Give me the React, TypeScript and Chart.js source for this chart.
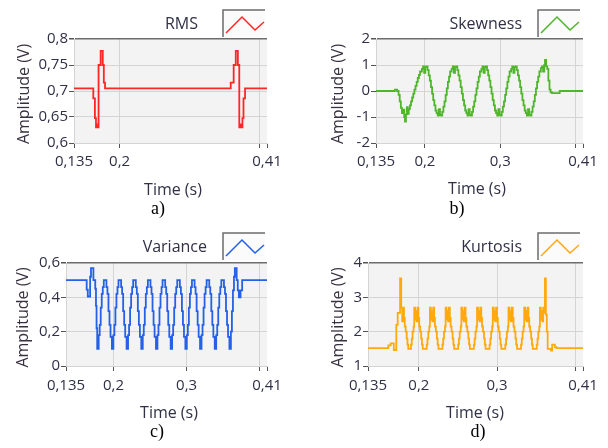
import React, { useEffect, useRef } from 'react';
import { Chart, registerables } from 'chart.js';

Chart.register(...registerables);

// ---------------- DATA ----------------
const xTicksA = [0.135, 0.2, 0.4, 0.41];
const xLabelsA = ['0,135', '0,2', '', '0,41'];
const xTicksB = [0.135, 0.2, 0.3, 0.4, 0.41];
const xLabelsB = ['0,135', '0,2', '0,3', '', '0,41'];

const rmsYTicks = [0.6, 0.65, 0.7, 0.75, 0.8];
const rmsYLabels = ['0,6', '0,65', '0,7', '0,75', '0,8'];
const skewYTicks = [-2, -1, 0, 1, 2];
const skewYLabels = ['-2', '-1', '0', '1', '2'];
const varYTicks = [0, 0.2, 0.4, 0.6];
const varYLabels = ['0', '0,2', '0,4', '0,6'];
const kurtYTicks = [1, 2, 3, 4];
const kurtYLabels = ['1', '2', '3', '4'];

const rmsTime = [0.1350, 0.1625, 0.1648, 0.1663, 0.1675, 0.1688, 0.1700, 0.1730, 0.1760, 0.1775, 0.1792,
  0.3583, 0.3625, 0.3655, 0.3685, 0.3705, 0.3720, 0.3735, 0.3750, 0.3765, 0.3787, 0.4100];
const rmsValues = [0.705, 0.686, 0.648, 0.630, 0.636, 0.630, 0.750, 0.777, 0.750, 0.716, 0.705,
  0.716, 0.750, 0.777, 0.750, 0.630, 0.636, 0.630, 0.648, 0.686, 0.705, 0.705];

const skewTime = [0.1350, 0.1600, 0.1630, 0.1650, 0.1665, 0.1680, 0.1695, 0.1710, 0.1725, 0.1735, 0.1748, 0.1760, 0.1772, 0.1785,
  0.1800, 0.1815, 0.1830, 0.1845, 0.1860, 0.1875, 0.1890, 0.1905, 0.1920, 0.1935,
  0.1960, 0.1975, 0.1990, 0.2005, 0.2020, 0.2035,
  0.2050, 0.2065, 0.2080, 0.2095, 0.2110, 0.2125, 0.2140,
  0.2155, 0.2170, 0.2185, 0.2200, 0.2215, 0.2230,
  0.2245, 0.2260, 0.2275, 0.2290, 0.2305, 0.2320, 0.2335,
  0.2355, 0.2370, 0.2385, 0.2400, 0.2415, 0.2430,
  0.2445, 0.2460, 0.2475, 0.2490, 0.2505, 0.2520, 0.2535,
  0.2550, 0.2565, 0.2580, 0.2595, 0.2610, 0.2625,
  0.2640, 0.2655, 0.2670, 0.2685, 0.2700, 0.2715, 0.2730,
  0.2750, 0.2765, 0.2780, 0.2795, 0.2810, 0.2825,
  0.2840, 0.2855, 0.2870, 0.2885, 0.2900, 0.2915, 0.2930,
  0.2945, 0.2960, 0.2975, 0.2990, 0.3005, 0.3020,
  0.3035, 0.3050, 0.3065, 0.3080, 0.3095, 0.3110, 0.3125,
  0.3145, 0.3160, 0.3175, 0.3190, 0.3205, 0.3220,
  0.3235, 0.3250, 0.3265, 0.3280, 0.3295, 0.3310, 0.3325,
  0.3340, 0.3355, 0.3370, 0.3385, 0.3400, 0.3415,
  0.3430, 0.3445, 0.3460, 0.3475, 0.3490, 0.3505, 0.3520,
  0.3540, 0.3555, 0.3570, 0.3585, 0.3595, 0.3610, 0.3625, 0.3640, 0.3655, 0.3670, 0.3690, 0.3790, 0.4100];
const skewValues = [0, 0.05, 0, -0.15, -0.40, -0.65, -0.85, -0.72, -1.00, -1.18, -0.90, -0.62, -0.88, -0.70,
  -0.55, -0.40, -0.25, -0.10, 0.05, 0.20, 0.35, 0.50, 0.62, 0.75,
  0.85, 0.95, 0.70, 0.92, 0.95, 0.80,
  0.60, 0.40, 0.15, -0.10, -0.35, -0.55, -0.75,
  -0.85, -0.95, -0.70, -0.92, -0.95, -0.80,
  -0.60, -0.40, -0.15, 0.10, 0.35, 0.55, 0.75,
  0.85, 0.95, 0.70, 0.92, 0.95, 0.80,
  0.60, 0.40, 0.15, -0.10, -0.35, -0.55, -0.75,
  -0.85, -0.95, -0.70, -0.92, -0.95, -0.80,
  -0.60, -0.40, -0.15, 0.10, 0.35, 0.55, 0.75,
  0.85, 0.95, 0.70, 0.92, 0.95, 0.80,
  0.60, 0.40, 0.15, -0.10, -0.35, -0.55, -0.75,
  -0.85, -0.95, -0.70, -0.92, -0.95, -0.80,
  -0.60, -0.40, -0.15, 0.10, 0.35, 0.55, 0.75,
  0.85, 0.95, 0.70, 0.92, 0.95, 0.80,
  0.60, 0.40, 0.15, -0.10, -0.35, -0.55, -0.75,
  -0.85, -0.95, -0.70, -0.92, -0.95, -0.80,
  -0.60, -0.40, -0.15, 0.10, 0.35, 0.55, 0.75,
  0.88, 0.95, 0.75, 1.00, 1.20, 0.95, 0.85, 0.40, 0.05, -0.05, -0.08, 0, 0];

const varTime = [0.1350, 0.1633, 0.1648, 0.1680, 0.1692, 0.1725, 0.1750, 0.1760, 0.1768,
  0.1777, 0.1797, 0.1811, 0.1825, 0.1839, 0.1853, 0.1867, 0.1903, 0.1917, 0.1931, 0.1945, 0.1959,
  0.1978, 0.1998, 0.2012, 0.2026, 0.2040, 0.2054, 0.2068, 0.2104, 0.2118, 0.2132, 0.2146, 0.2160,
  0.2179, 0.2199, 0.2213, 0.2227, 0.2241, 0.2255, 0.2269, 0.2305, 0.2319, 0.2333, 0.2347, 0.2361,
  0.2380, 0.2400, 0.2414, 0.2428, 0.2442, 0.2456, 0.2470, 0.2506, 0.2520, 0.2534, 0.2548, 0.2562,
  0.2581, 0.2601, 0.2615, 0.2629, 0.2643, 0.2657, 0.2671, 0.2707, 0.2721, 0.2735, 0.2749, 0.2763,
  0.2782, 0.2802, 0.2816, 0.2830, 0.2844, 0.2858, 0.2872, 0.2908, 0.2922, 0.2936, 0.2950, 0.2964,
  0.2983, 0.3003, 0.3017, 0.3031, 0.3045, 0.3059, 0.3073, 0.3109, 0.3123, 0.3137, 0.3151, 0.3165,
  0.3184, 0.3204, 0.3218, 0.3232, 0.3246, 0.3260, 0.3274, 0.3310, 0.3324, 0.3338, 0.3352, 0.3366,
  0.3385, 0.3405, 0.3419, 0.3433, 0.3447, 0.3461, 0.3475, 0.3511, 0.3525, 0.3539, 0.3553, 0.3567,
  0.3586, 0.3606, 0.3620, 0.3634, 0.3648, 0.3660, 0.3685, 0.3700, 0.3715, 0.3738, 0.3760, 0.4100];
const varValues = [0.50, 0.445, 0.405, 0.52, 0.57, 0.50, 0.45, 0.35, 0.22,
  0.10, 0.18, 0.24, 0.34, 0.42, 0.46, 0.50, 0.46, 0.42, 0.32, 0.24, 0.17,
  0.10, 0.18, 0.24, 0.34, 0.42, 0.46, 0.50, 0.46, 0.42, 0.32, 0.24, 0.17,
  0.10, 0.18, 0.24, 0.34, 0.42, 0.46, 0.50, 0.46, 0.42, 0.32, 0.24, 0.17,
  0.10, 0.18, 0.24, 0.34, 0.42, 0.46, 0.50, 0.46, 0.42, 0.32, 0.24, 0.17,
  0.10, 0.18, 0.24, 0.34, 0.42, 0.46, 0.50, 0.46, 0.42, 0.32, 0.24, 0.17,
  0.10, 0.18, 0.24, 0.34, 0.42, 0.46, 0.50, 0.46, 0.42, 0.32, 0.24, 0.17,
  0.10, 0.18, 0.24, 0.34, 0.42, 0.46, 0.50, 0.46, 0.42, 0.32, 0.24, 0.17,
  0.10, 0.18, 0.24, 0.34, 0.42, 0.46, 0.50, 0.46, 0.42, 0.32, 0.24, 0.17,
  0.10, 0.18, 0.24, 0.34, 0.42, 0.46, 0.50, 0.46, 0.42, 0.32, 0.24, 0.17,
  0.10, 0.20, 0.32, 0.44, 0.52, 0.57, 0.50, 0.44, 0.40, 0.44, 0.50, 0.50];

const kurtTime = [0.1350, 0.1610, 0.1640, 0.1680, 0.1712, 0.1730, 0.1760, 0.1775, 0.1788, 0.1798, 0.1810, 0.1820, 0.1832, 0.1845, 0.1855, 0.1865,
  0.1900, 0.1910, 0.1920, 0.1933, 0.1941, 0.1953, 0.1963, 0.1973, 0.1983, 0.1995, 0.2005, 0.2017, 0.2030, 0.2040, 0.2050,
  0.2101, 0.2111, 0.2121, 0.2134, 0.2142, 0.2154, 0.2164, 0.2174, 0.2184, 0.2196, 0.2206, 0.2218, 0.2231, 0.2241, 0.2251,
  0.2302, 0.2312, 0.2322, 0.2335, 0.2343, 0.2355, 0.2365, 0.2375, 0.2385, 0.2397, 0.2407, 0.2419, 0.2432, 0.2442, 0.2452,
  0.2503, 0.2513, 0.2523, 0.2536, 0.2544, 0.2556, 0.2566, 0.2576, 0.2586, 0.2598, 0.2608, 0.2620, 0.2633, 0.2643, 0.2653,
  0.2704, 0.2714, 0.2724, 0.2737, 0.2745, 0.2757, 0.2767, 0.2777, 0.2787, 0.2799, 0.2809, 0.2821, 0.2834, 0.2844, 0.2854,
  0.2905, 0.2915, 0.2925, 0.2938, 0.2946, 0.2958, 0.2968, 0.2978, 0.2988, 0.3000, 0.3010, 0.3022, 0.3035, 0.3045, 0.3055,
  0.3106, 0.3116, 0.3126, 0.3139, 0.3147, 0.3159, 0.3169, 0.3179, 0.3189, 0.3201, 0.3211, 0.3223, 0.3236, 0.3246, 0.3256,
  0.3307, 0.3317, 0.3327, 0.3340, 0.3348, 0.3360, 0.3370, 0.3380, 0.3390, 0.3402, 0.3412, 0.3424, 0.3437, 0.3447, 0.3457,
  0.3508, 0.3518, 0.3528, 0.3541, 0.3549, 0.3561, 0.3571, 0.3581, 0.3591, 0.3603, 0.3613, 0.3625, 0.3637, 0.3648, 0.3690, 0.3705, 0.3740, 0.3760, 0.4100];
const kurtValues = [1.52, 1.60, 1.66, 1.46, 2.20, 2.55, 3.55, 2.70, 2.30, 2.70, 2.40, 2.15, 2.00, 1.80, 1.62, 1.50,
  1.62, 1.80, 2.00, 2.15, 2.70, 2.35, 2.60, 2.30, 2.70, 2.40, 2.15, 2.00, 1.80, 1.62, 1.50,
  1.62, 1.80, 2.00, 2.15, 2.70, 2.35, 2.60, 2.30, 2.70, 2.40, 2.15, 2.00, 1.80, 1.62, 1.50,
  1.62, 1.80, 2.00, 2.15, 2.70, 2.35, 2.60, 2.30, 2.70, 2.40, 2.15, 2.00, 1.80, 1.62, 1.50,
  1.62, 1.80, 2.00, 2.15, 2.70, 2.35, 2.60, 2.30, 2.70, 2.40, 2.15, 2.00, 1.80, 1.62, 1.50,
  1.62, 1.80, 2.00, 2.15, 2.70, 2.35, 2.60, 2.30, 2.70, 2.40, 2.15, 2.00, 1.80, 1.62, 1.50,
  1.62, 1.80, 2.00, 2.15, 2.70, 2.35, 2.60, 2.30, 2.70, 2.40, 2.15, 2.00, 1.80, 1.62, 1.50,
  1.62, 1.80, 2.00, 2.15, 2.70, 2.35, 2.60, 2.30, 2.70, 2.40, 2.15, 2.00, 1.80, 1.62, 1.50,
  1.62, 1.80, 2.00, 2.15, 2.70, 2.35, 2.60, 2.30, 2.70, 2.40, 2.15, 2.00, 1.80, 1.62, 1.50,
  1.62, 1.80, 2.00, 2.15, 2.70, 2.35, 2.60, 2.30, 2.70, 2.55, 3.55, 2.50, 2.00, 1.50, 1.45, 1.62, 1.55, 1.52, 1.52];

// ---------------- STYLE ----------------
const W = 608;
const H = 448;
const FONT = '"Open Sans", "Noto Sans", sans-serif';
const SERIF = '"Liberation Serif", "DejaVu Serif", serif';
const TEXT = '#303046';
const TITLE = '#38303f';
const GRID = '#d4d4d4';
const FRAME = '#6c6c6c';
const PLOT_BG = '#f3f3f3';

type Panel = {
  name: string; color: string; time: number[]; values: number[];
  left: number; top: number; right: number; bottom: number;
  yMin: number; yMax: number; yTicks: number[]; yLabels: string[];
  xTicks: number[]; xLabels: string[];
  legendRight: number; legendY: number; boxX: number; boxY: number;
  yTitleX: number; timeX: number; timeY: number; tickPad: number;
  caption: string; capX: number; capY: number;
};

const PANELS: Panel[] = [
  { name: 'RMS', color: '#ff2626', time: rmsTime, values: rmsValues,
    left: 74, top: 39, right: 267, bottom: 143, yMin: 0.6, yMax: 0.8, yTicks: rmsYTicks, yLabels: rmsYLabels,
    xTicks: xTicksA, xLabels: xLabelsA, legendRight: 198, legendY: 24, boxX: 223, boxY: 10,
    yTitleX: 24, timeX: 173, timeY: 190, tickPad: 5, caption: 'a)', capX: 158, capY: 209 },
  { name: 'Skewness', color: '#4fb52a', time: skewTime, values: skewValues,
    left: 376, top: 39, right: 583, bottom: 143, yMin: -2, yMax: 2, yTicks: skewYTicks, yLabels: skewYLabels,
    xTicks: xTicksB, xLabels: xLabelsB, legendRight: 522, legendY: 24, boxX: 538, boxY: 10,
    yTitleX: 338, timeX: 477, timeY: 189, tickPad: 5, caption: 'b)', capX: 457, capY: 209 },
  { name: 'Variance', color: '#2461e6', time: varTime, values: varValues,
    left: 66, top: 263, right: 267, bottom: 366, yMin: 0, yMax: 0.6, yTicks: varYTicks, yLabels: varYLabels,
    xTicks: xTicksB, xLabels: xLabelsB, legendRight: 207, legendY: 247, boxX: 223, boxY: 233,
    yTitleX: 23, timeX: 169, timeY: 413, tickPad: 6, caption: 'c)', capX: 157, capY: 432 },
  { name: 'Kurtosis', color: '#ffa90f', time: kurtTime, values: kurtValues,
    left: 368, top: 263, right: 583, bottom: 366, yMin: 1, yMax: 4, yTicks: kurtYTicks, yLabels: kurtYLabels,
    xTicks: xTicksB, xLabels: xLabelsB, legendRight: 522, legendY: 247, boxX: 538, boxY: 233,
    yTitleX: 338, timeX: 475, timeY: 413, tickPad: 6, caption: 'd)', capX: 478, capY: 432 },
];

const Y_AXIS_W = 40;
const X_AXIS_H = 30;

function decor(p: Panel) {
  return {
    id: 'decor' + p.name,
    beforeDraw(chart: any) {
      const { ctx, chartArea: a } = chart;
      ctx.save();
      ctx.fillStyle = PLOT_BG;
      ctx.fillRect(a.left, a.top, a.right - a.left, a.bottom - a.top);
      ctx.restore();
    },
    afterDraw(chart: any) {
      const { ctx, chartArea: a } = chart;
      ctx.save();
      ctx.fillStyle = TITLE;
      ctx.font = `16px ${FONT}`;
      ctx.textAlign = 'center';
      ctx.textBaseline = 'middle';
      ctx.save();
      ctx.translate(p.yTitleX, (a.top + a.bottom) / 2 + 3);
      ctx.rotate(-Math.PI / 2);
      ctx.fillText('Amplitude (V)', 0, 0);
      ctx.restore();
      ctx.fillStyle = TEXT;
      ctx.fillText('Time (s)', p.timeX, p.timeY);
      // legend
      ctx.textAlign = 'right';
      ctx.fillText(p.name, p.legendRight, p.legendY);
      const bw = 42, bh = 27;
      ctx.fillStyle = '#fbfbfb';
      ctx.fillRect(p.boxX, p.boxY, bw, bh);
      ctx.strokeStyle = FRAME;
      ctx.lineWidth = 1.5;
      ctx.beginPath();
      ctx.moveTo(p.boxX, p.boxY + bh);
      ctx.lineTo(p.boxX, p.boxY);
      ctx.lineTo(p.boxX + bw, p.boxY);
      ctx.stroke();
      ctx.strokeStyle = p.color;
      ctx.lineWidth = 1.5;
      ctx.beginPath();
      ctx.moveTo(p.boxX + 3, p.boxY + 23);
      ctx.lineTo(p.boxX + 19, p.boxY + 7);
      ctx.lineTo(p.boxX + 32, p.boxY + 20);
      ctx.lineTo(p.boxX + 41, p.boxY + 12);
      ctx.stroke();
      // caption
      ctx.fillStyle = '#000';
      ctx.font = `18px ${SERIF}`;
      ctx.textAlign = 'center';
      ctx.fillText(p.caption, p.capX, p.capY);
      ctx.restore();
    },
  };
}

function PanelChart({ p }: { p: Panel }) {
  const ref = useRef<HTMLCanvasElement | null>(null);
  useEffect(() => {
    if (!ref.current) return;
    const n = Math.min(p.time.length, p.values.length);
    const pts = [] as { x: number; y: number }[];
    for (let i = 0; i < n; i++) pts.push({ x: p.time[i], y: p.values[i] });
    const chart = new Chart(ref.current, {
      type: 'line',
      data: {
        datasets: [{
          data: pts, borderColor: p.color, borderWidth: 1.8, pointRadius: 0,
          stepped: true, fill: false, tension: 0,
        }],
      },
      options: {
        responsive: false,
        animation: false,
        events: [],
        layout: {
          padding: {
            left: p.left - Y_AXIS_W, right: W - p.right, top: p.top, bottom: H - p.bottom - X_AXIS_H,
          },
        },
        plugins: { legend: { display: false }, tooltip: { enabled: false }, title: { display: false } },
        scales: {
          x: {
            type: 'linear', min: 0.135, max: 0.41,
            afterBuildTicks: (s: any) => { s.ticks = p.xTicks.map((v) => ({ value: v })); },
            afterFit: (s: any) => { s.height = X_AXIS_H; },
            ticks: {
              autoSkip: false, maxRotation: 0, minRotation: 0, padding: p.tickPad,
              color: TEXT, font: { family: FONT, size: 15 },
              callback: (_v: any, i: number) => p.xLabels[i],
            },
            grid: {
              color: (c: any) => (c.tick && (c.tick.value === 0.41 || c.tick.value === 0.135) ? 'rgba(0,0,0,0)' : GRID),
              tickColor: '#555',
              tickLength: 5,
              lineWidth: 1,
            },
            border: { display: true, color: GRID },
          },
          y: {
            type: 'linear', min: p.yMin, max: p.yMax,
            afterBuildTicks: (s: any) => { s.ticks = p.yTicks.map((v) => ({ value: v })); },
            afterFit: (s: any) => { s.width = Y_AXIS_W; },
            ticks: {
              padding: 1, color: TEXT, font: { family: FONT, size: 15 },
              callback: (_v: any, i: number) => p.yLabels[i],
            },
            grid: {
              color: (c: any) => (c.tick && c.tick.value === p.yMax ? FRAME : GRID),
              lineWidth: (c: any) => (c.tick && c.tick.value === p.yMax ? 1.5 : 1),
              tickColor: '#555',
              tickLength: 5,
            },
            border: { display: true, color: GRID },
          },
        },
      },
      plugins: [decor(p)],
    } as any);
    return () => chart.destroy();
  }, [p]);
  return (
    <canvas
      ref={ref}
      width={W}
      height={H}
      style={{ position: 'absolute', left: 0, top: 0, width: W, height: H }}
    />
  );
}

export default function App() {
  return (
    <div style={{ position: 'absolute', left: 0, top: 0, width: W, height: H, background: '#fff', overflow: 'hidden' }}>
      {PANELS.map((p) => (
        <PanelChart key={p.name} p={p} />
      ))}
    </div>
  );
}
